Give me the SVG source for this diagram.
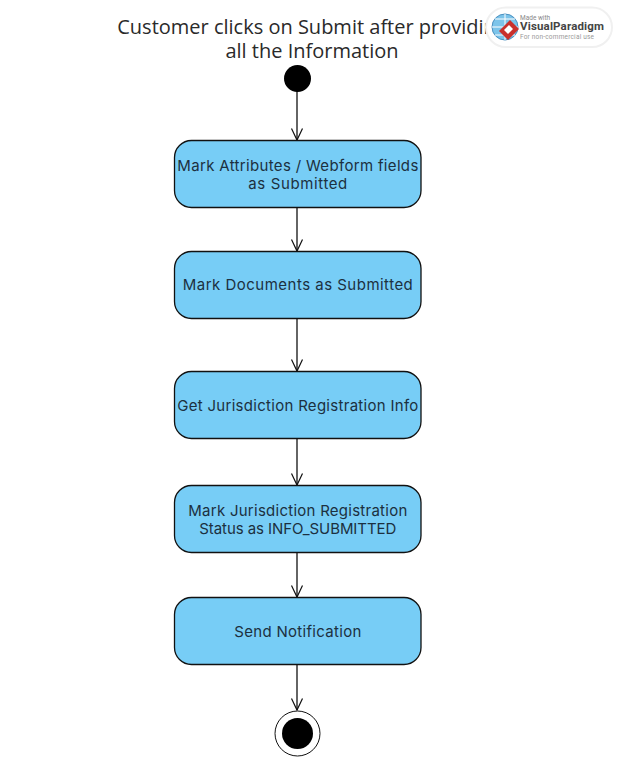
<svg xmlns="http://www.w3.org/2000/svg" width="618" height="760" viewBox="0 0 618 760">
<style>
.node{fill:#77cdf6;stroke:#111;stroke-width:1.3}
.lbl{font-family:"Inter","Noto Sans",sans-serif;font-size:15px;fill:#1c3040;text-anchor:middle}
.title{font-family:"Open Sans","Noto Sans",sans-serif;font-size:20px;fill:#2a2a2a;text-anchor:middle}
.conn{fill:none;stroke:#111;stroke-width:1.3}
.head{fill:none;stroke:#111;stroke-width:1.2}
.wm{font-family:"Roboto","Liberation Sans",sans-serif}
</style>
<defs>
<marker id="arrow" markerUnits="userSpaceOnUse" markerWidth="16" markerHeight="16" refX="12" refY="6" orient="auto" overflow="visible">
<path class="head" d="M0.5 0.5L12 6L0.5 11.500"/>
</marker>
</defs>
<text class="title" x="312" y="34">Customer clicks on Submit after providing</text>
<text class="title" x="312" y="58">all the Information</text>
<g id="connectors">
<path class="conn" marker-end="url(#arrow)" d="M297 91V140"/>
<path class="conn" marker-end="url(#arrow)" d="M297 207V251"/>
<path class="conn" marker-end="url(#arrow)" d="M297 318V371"/>
<path class="conn" marker-end="url(#arrow)" d="M297 438V485"/>
<path class="conn" marker-end="url(#arrow)" d="M297 552V597"/>
<path class="conn" marker-end="url(#arrow)" d="M297 664V710"/>
</g>
<g id="start"><circle cx="297.500" cy="78.500" r="13.500" fill="#000"/></g>
<g id="n1"><rect class="node" x="174.500" y="140.500" width="246.500" height="67" rx="17"/>
<text class="lbl" x="297.800" y="171" textLength="241">Mark Attributes / Webform fields</text>
<text class="lbl" x="297.800" y="189" textLength="99">as Submitted</text></g>
<g id="n2"><rect class="node" x="174.500" y="251.500" width="246.500" height="67" rx="17"/>
<text class="lbl" x="297.800" y="290" textLength="230">Mark Documents as Submitted</text></g>
<g id="n3"><rect class="node" x="174.500" y="371.500" width="246.500" height="67" rx="17"/>
<text class="lbl" x="297.800" y="411" textLength="241">Get Jurisdiction Registration Info</text></g>
<g id="n4"><rect class="node" x="174.500" y="485.500" width="246.500" height="67" rx="17"/>
<text class="lbl" x="297.800" y="516" textLength="219">Mark Jurisdiction Registration</text>
<text class="lbl" x="297.800" y="534" textLength="197">Status as INFO_SUBMITTED</text></g>
<g id="n5"><rect class="node" x="174.500" y="597.500" width="246.500" height="67" rx="17"/>
<text class="lbl" x="297.800" y="637" textLength="127">Send Notification</text></g>
<g id="end"><circle cx="297.500" cy="733.500" r="22.500" fill="#fff" stroke="#111" stroke-width="1"/><circle cx="297.500" cy="733.500" r="15.500" fill="#000"/></g>
<g id="watermark">
<rect x="486" y="7.500" width="126" height="39.500" rx="19.700" fill="#fff" stroke="#f0f0f0" stroke-width="2"/>
<circle cx="505" cy="27" r="13" fill="#7cc4ea" stroke="#4a90c0"/>
<path d="M492 27H518M505 14V40M495 19H515M495 35H515" stroke="#fff" fill="none"/>
<path d="M510 20L519 29L508 40L499 31Z" fill="#c9302c"/>
<path d="M509 25L513 29L508 34L504 30Z" fill="#fff"/>
<text class="wm" x="520" y="19.500" font-size="6.500" fill="#888">Made with</text>
<text class="wm" x="520" y="30" font-size="11.500" font-weight="700" fill="#444" textLength="84">VisualParadigm</text>
<text class="wm" x="520" y="39" font-size="6.500" fill="#999" textLength="74">For non-commercial use</text>
</g>
</svg>
